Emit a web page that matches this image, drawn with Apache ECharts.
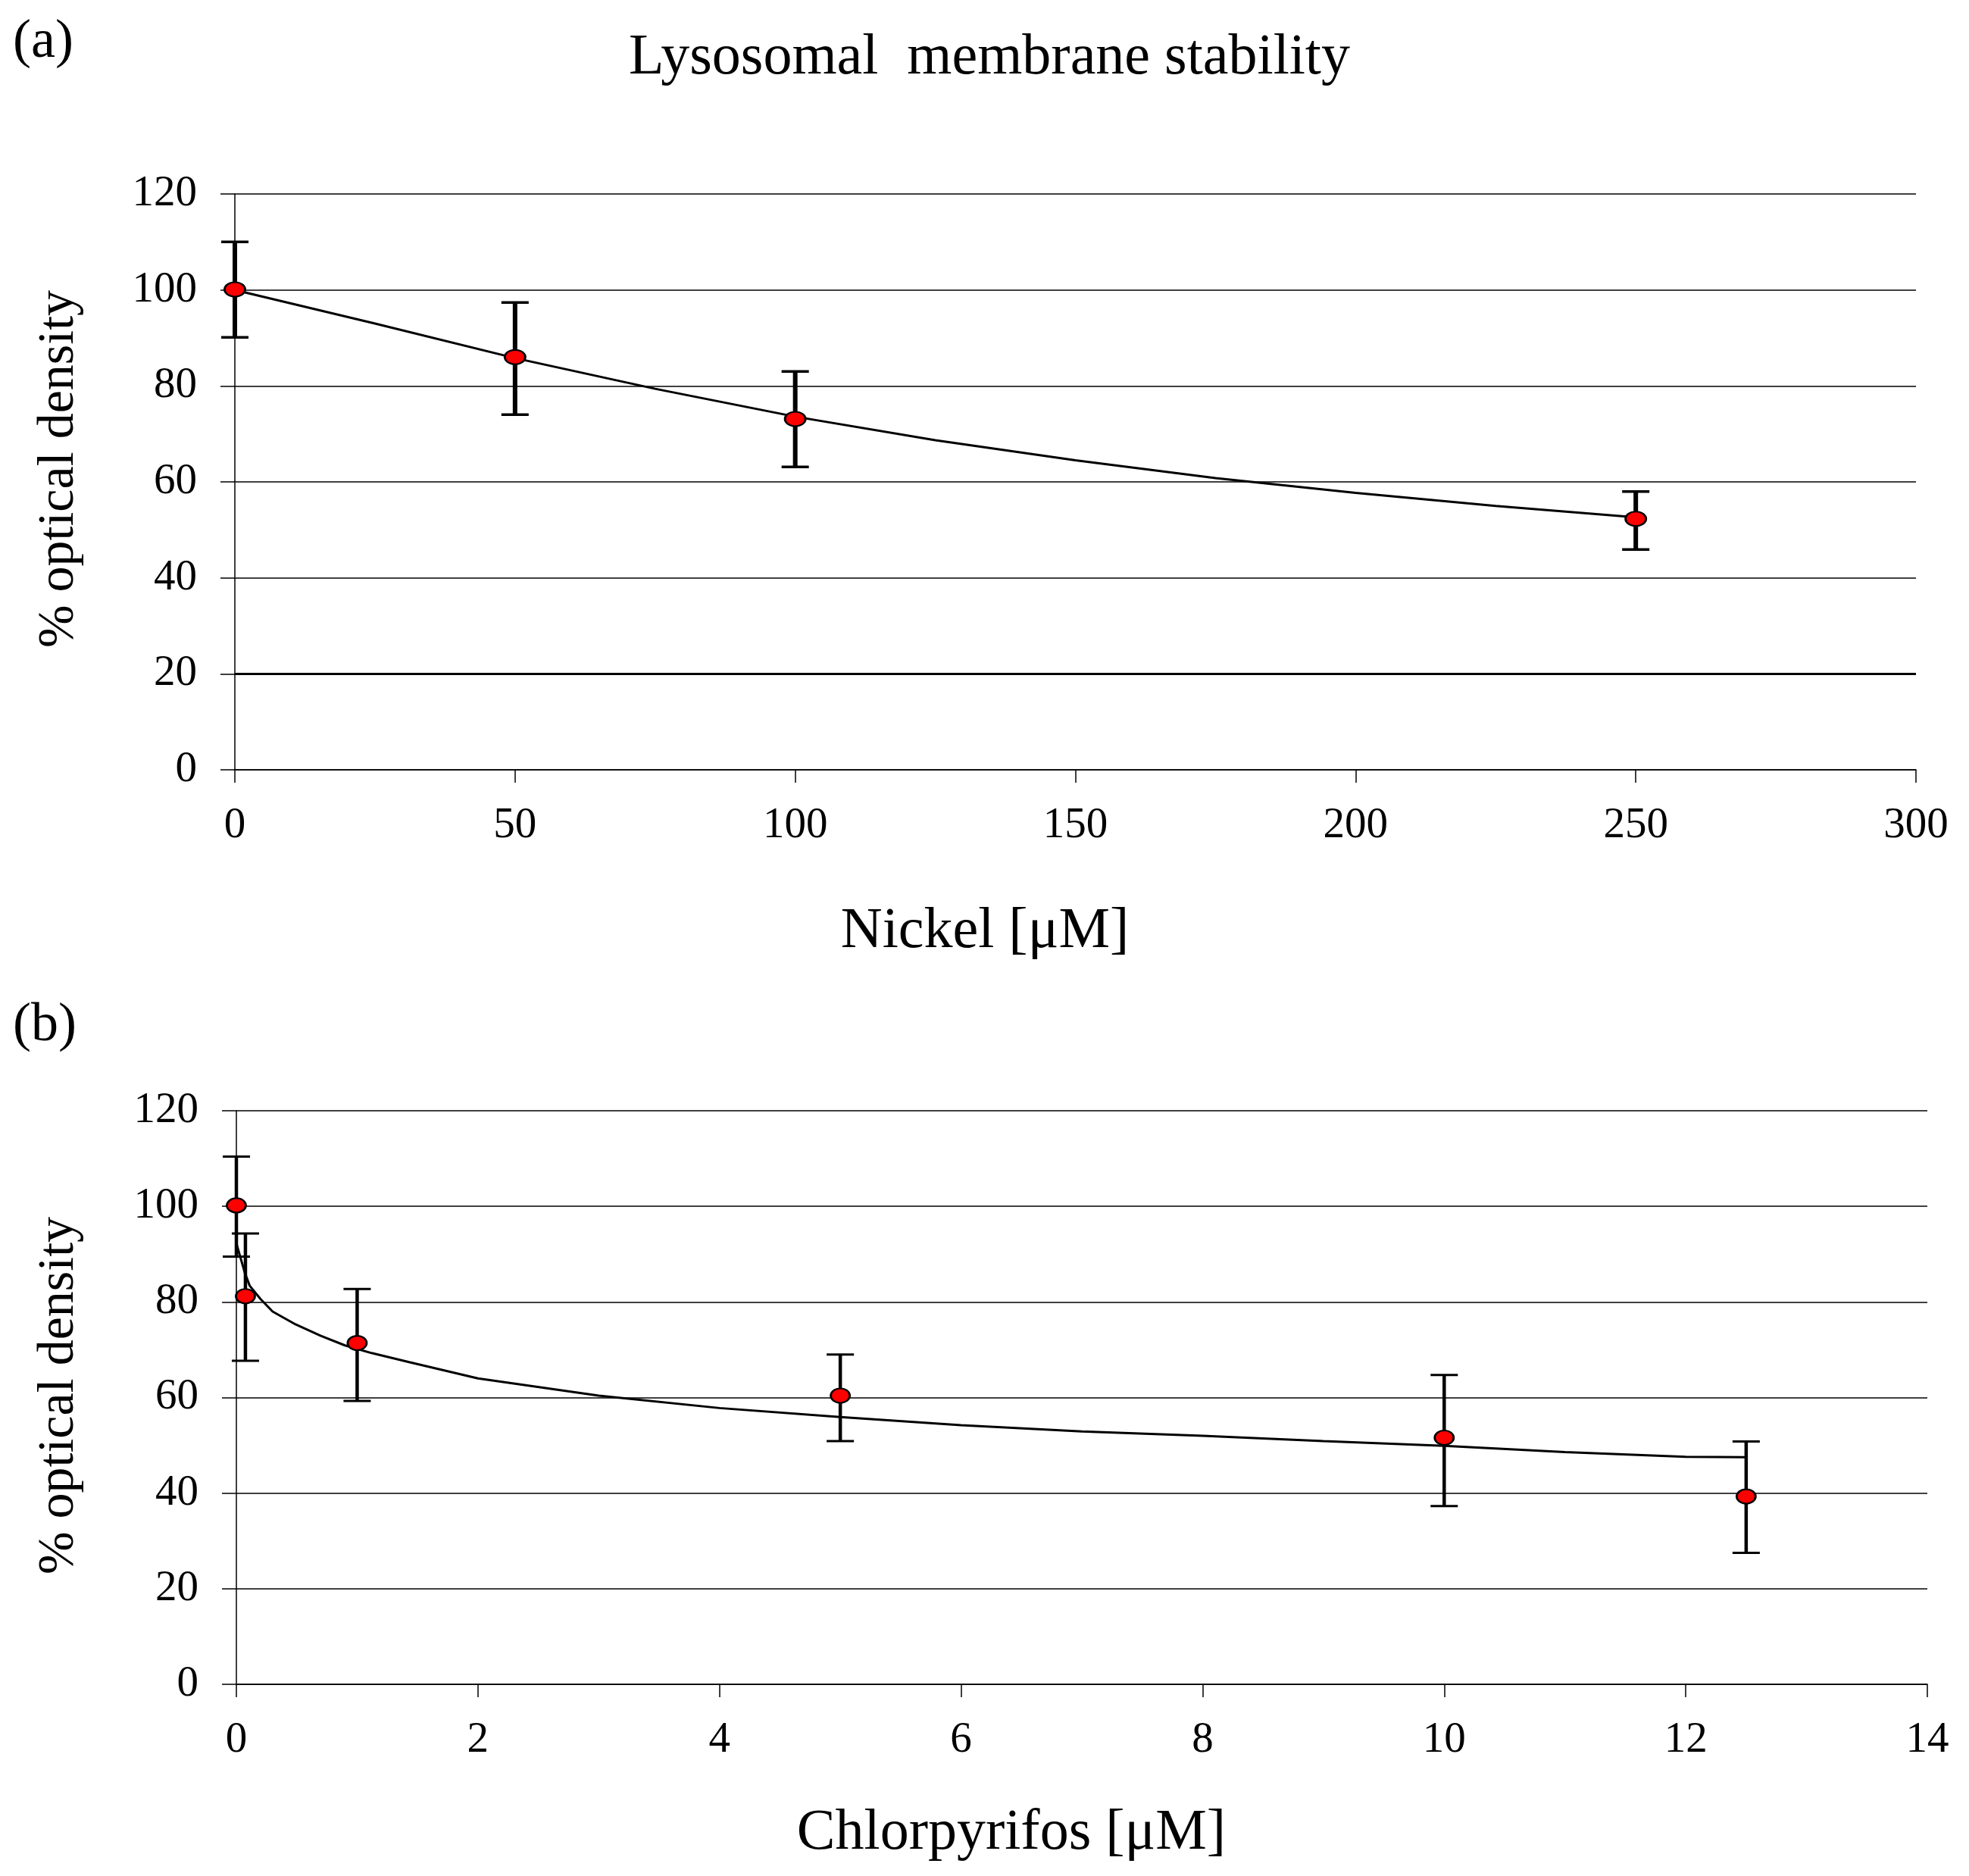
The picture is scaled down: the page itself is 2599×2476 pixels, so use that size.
<!DOCTYPE html>
<html>
<head>
<meta charset="utf-8">
<title>Lysosomal membrane stability</title>
<script src="https://cdn.jsdelivr.net/npm/echarts@6/dist/echarts.min.js"></script>
<style>
  html, body { margin: 0; padding: 0; background: #fff; }
  #chart { width: 2599px; height: 2476px; }
</style>
</head>
<body>
<div id="chart"></div>
<script>
// panel (a): nickel
const nickelX = [0, 50, 100, 250];
const nickelMean = [100.1, 86.0, 73.1, 52.3];
const nickelLow = [90.1, 74.0, 63.1, 45.9];
const nickelHigh = [110.0, 97.4, 83.0, 58.0];
// trend line
const nickelTrendX = [0, 25, 50, 75, 100, 125, 150, 175, 200, 225, 250];
const nickelTrendY = [100, 93.0, 85.8, 79.4, 73.6, 68.7, 64.5, 60.8, 57.7, 55.0, 52.6];

// panel (b): chlorpyrifos
const cpfX = [0, 0.075, 1, 5, 10, 12.5];
const cpfMean = [100.2, 81.2, 71.4, 60.4, 51.6, 39.3];
const cpfLow = [89.5, 67.7, 59.3, 50.9, 37.3, 27.5];
const cpfHigh = [110.4, 94.3, 82.7, 69.0, 64.7, 50.8];
const cpfTrendX = [0.004, 0.07, 0.11, 0.2, 0.3, 0.49, 0.7, 0.9, 1.12, 1.43, 2, 3, 4, 5, 6, 7, 8, 9, 10, 11, 12, 12.5];
const cpfTrendY = [91.9, 86.1, 83.4, 80.6, 78.0, 75.3, 72.9, 70.9, 69.3, 67.4, 64.0, 60.4, 57.8, 55.9, 54.2, 52.9, 52.0, 50.9, 49.9, 48.6, 47.6, 47.5];

// axis ticks
const yTicks = { min: 0, max: 120, interval: 20 };
const nickelTicks = { min: 0, max: 300, interval: 50 };
const cpfTicks = { min: 0, max: 14, interval: 2 };

const serif = "'Liberation Serif', 'Times New Roman', serif";

const chart = echarts.init(document.getElementById('chart'), null, { renderer: 'canvas' });

// vertical error bar with caps
function errorBar(stemWidth, capWidth, capThick) {
    return function (params, api) {
        const x = api.value(0);
        const top = api.coord([x, api.value(2)]);
        const bot = api.coord([x, api.value(1)]);
        const hw = capWidth / 2;
        return {
            type: 'group',
            children: [
                { type: 'line', shape: { x1: top[0], y1: top[1], x2: bot[0], y2: bot[1] }, style: { stroke: '#000', lineWidth: stemWidth } },
                { type: 'line', shape: { x1: top[0] - hw, y1: top[1], x2: top[0] + hw, y2: top[1] }, style: { stroke: '#000', lineWidth: capThick } },
                { type: 'line', shape: { x1: bot[0] - hw, y1: bot[1], x2: bot[0] + hw, y2: bot[1] }, style: { stroke: '#000', lineWidth: capThick } }
            ]
        };
    };
}

function xAxisFor(ticks, gridIndex) {
    return {
        type: 'value',
        gridIndex: gridIndex,
        min: ticks.min, max: ticks.max, interval: ticks.interval,
        axisLine: { show: true, lineStyle: { color: '#000', width: 1.5 } },
        axisTick: { show: true, inside: false, length: 17, lineStyle: { color: '#000', width: 1.5 } },
        axisLabel: { color: '#000', fontFamily: serif, fontSize: 57, margin: 46 },
        splitLine: { show: false }
    };
}

function yAxisFor(gridIndex) {
    return {
        type: 'value',
        gridIndex: gridIndex,
        min: yTicks.min, max: yTicks.max, interval: yTicks.interval,
        axisLine: { show: true, onZero: false, lineStyle: { color: '#000', width: 1.5 } },
        axisTick: { show: true, inside: false, length: 19, lineStyle: { color: '#000', width: 1.5 } },
        axisLabel: { color: '#000', fontFamily: serif, fontSize: 57, margin: 50 },
        splitLine: { show: true, lineStyle: { color: '#000', width: 1.5 } }
    };
}

const zip = (xs, ...cols) => xs.map((x, i) => [x, ...cols.map(c => c[i])]);

const option = {
    backgroundColor: '#fff',
    animation: false,
    grid: [
        { left: 310, top: 256, width: 2219, height: 760 },
        { left: 312, top: 1466, width: 2232, height: 757 }
    ],
    xAxis: [xAxisFor(nickelTicks, 0), xAxisFor(cpfTicks, 1)],
    yAxis: [yAxisFor(0), yAxisFor(1)],
    graphic: [
        { type: 'text', left: 17, top: 20, style: { text: '(a)', font: '72px ' + serif, fill: '#000' } },
        { type: 'text', left: 17, top: 1318, style: { text: '(b)', font: '72px ' + serif, fill: '#000' } },
        { type: 'text', x: 1306, y: 77, style: { text: 'Lysosomal  membrane stability', font: '76px ' + serif, fill: '#000', align: 'center', verticalAlign: 'middle' } },
        { type: 'text', x: 1300, y: 1230, style: { text: 'Nickel [\u03bcM]', font: '76px ' + serif, fill: '#000', align: 'center', verticalAlign: 'middle' } },
        { type: 'text', x: 1335, y: 2420, style: { text: 'Chlorpyrifos [\u03bcM]', font: '76px ' + serif, fill: '#000', align: 'center', verticalAlign: 'middle' } },
        { type: 'text', x: 78, y: 619, rotation: Math.PI / 2, style: { text: '% optical density', font: '68px ' + serif, fill: '#000', align: 'center', verticalAlign: 'middle' } },
        { type: 'text', x: 78, y: 1842, rotation: Math.PI / 2, style: { text: '% optical density', font: '68px ' + serif, fill: '#000', align: 'center', verticalAlign: 'middle' } }
    ],
    series: [
        // (a)
        {
            type: 'custom', xAxisIndex: 0, yAxisIndex: 0, z: 2,
            renderItem: errorBar(6, 36, 3.5),
            encode: { x: 0, y: [1, 2] },
            data: zip(nickelX, nickelLow, nickelHigh)
        },
        {
            type: 'line', xAxisIndex: 0, yAxisIndex: 0, z: 3,
            data: zip(nickelTrendX, nickelTrendY),
            smooth: false, showSymbol: false,
            lineStyle: { color: '#000', width: 3 },
            // the 20 % gridline is drawn heavier in the original
            markLine: {
                silent: true, symbol: 'none', label: { show: false },
                lineStyle: { color: '#000', width: 3, type: 'solid' },
                data: [{ yAxis: 20 }]
            }
        },
        {
            type: 'scatter', xAxisIndex: 0, yAxisIndex: 0, z: 4,
            data: zip(nickelX, nickelMean),
            symbol: 'circle', symbolSize: [27, 19],
            itemStyle: { color: '#ff0000', borderColor: '#000', borderWidth: 2.5, opacity: 1 }
        },
        // (b)
        {
            type: 'custom', xAxisIndex: 1, yAxisIndex: 1, z: 2,
            renderItem: errorBar(4.5, 36, 3),
            encode: { x: 0, y: [1, 2] },
            data: zip(cpfX, cpfLow, cpfHigh)
        },
        {
            type: 'line', xAxisIndex: 1, yAxisIndex: 1, z: 3,
            data: zip(cpfTrendX, cpfTrendY),
            smooth: false, showSymbol: false,
            lineStyle: { color: '#000', width: 3 }
        },
        {
            type: 'scatter', xAxisIndex: 1, yAxisIndex: 1, z: 4,
            data: zip(cpfX, cpfMean),
            symbol: 'circle', symbolSize: [25, 19],
            itemStyle: { color: '#ff0000', borderColor: '#000', borderWidth: 2.5, opacity: 1 }
        }
    ]
};

chart.setOption(option);
</script>
</body>
</html>
